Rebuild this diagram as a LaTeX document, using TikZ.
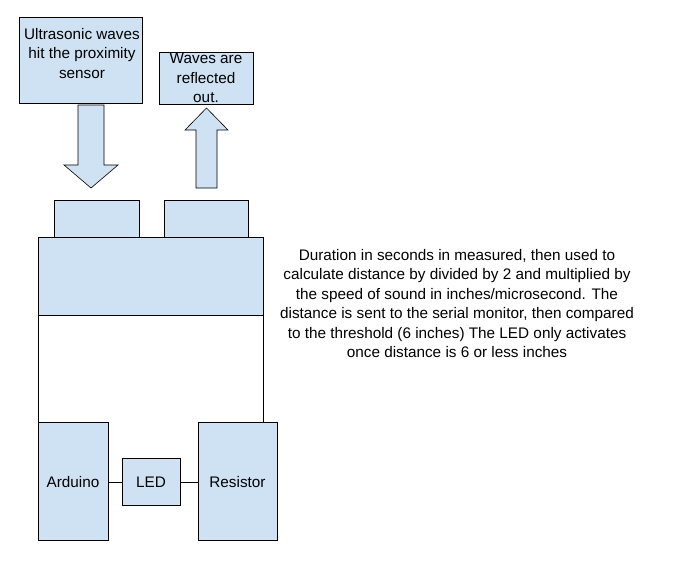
\documentclass[tikz,border=0pt]{standalone}
\usepackage{fontspec}
\setmainfont{Liberation Sans}
\usetikzlibrary{shapes.arrows}
\definecolor{lb}{HTML}{CFE2F3}
\begin{document}
\begin{tikzpicture}[x=1pt,y=-1pt,
  bx/.style={draw=black,fill=lb,line width=0.6pt},
  txt/.style={font=\fontsize{15.3}{19.5}\selectfont,align=center,inner sep=0pt}]
\useasboundingbox (0,0) rectangle (683,570);
\draw[bx] (19,17) rectangle (142,103);
\node[txt,anchor=north] (t1) at (82,28) {Ultrasonic waves\\hit the proximity\\sensor};
\draw[bx] (159,52) rectangle (253,104);
\node[txt,anchor=north] (t2) at (206,53) {Waves are\\reflected\\out.};
\draw[bx] (78,105) -- (104,105) -- (104,165) -- (118,165) -- (91,188) -- (64,165) -- (78,165) -- cycle;
\draw[bx] (196,188) -- (217,188) -- (217,130) -- (228,130) -- (206.5,108) -- (185,130) -- (196,130) -- cycle;
\draw[bx] (54,200) rectangle (139,237);
\draw[bx] (164,200) rectangle (248,237);
\draw[bx] (38,237) rectangle (263,315);
\draw[line width=0.6pt] (38,315) -- (38,422);
\draw[line width=0.6pt] (263,315) -- (263,422);
\draw[bx] (38,422) rectangle (108,540);
\node[txt] (ard) at (73,482) {Arduino};
\draw[bx] (122,458) rectangle (180,505);
\node[txt] (led) at (151,482) {LED};
\draw[bx] (198,422) rectangle (277,540);
\node[txt] (res) at (237.5,482) {Resistor};
\draw[line width=0.6pt] (108,482) -- (122,482);
\draw[line width=0.6pt] (180,482) -- (198,482);
\node[txt,anchor=north] (desc) at (457,249) {Duration in seconds in measured, then used to\\calculate distance by divided by 2 and multiplied by\\the speed of sound in inches/microsecond. The\\distance is sent to the serial monitor, then compared\\to the threshold (6 inches) The LED only activates\\once distance is 6 or less inches};
\end{tikzpicture}
\end{document}
